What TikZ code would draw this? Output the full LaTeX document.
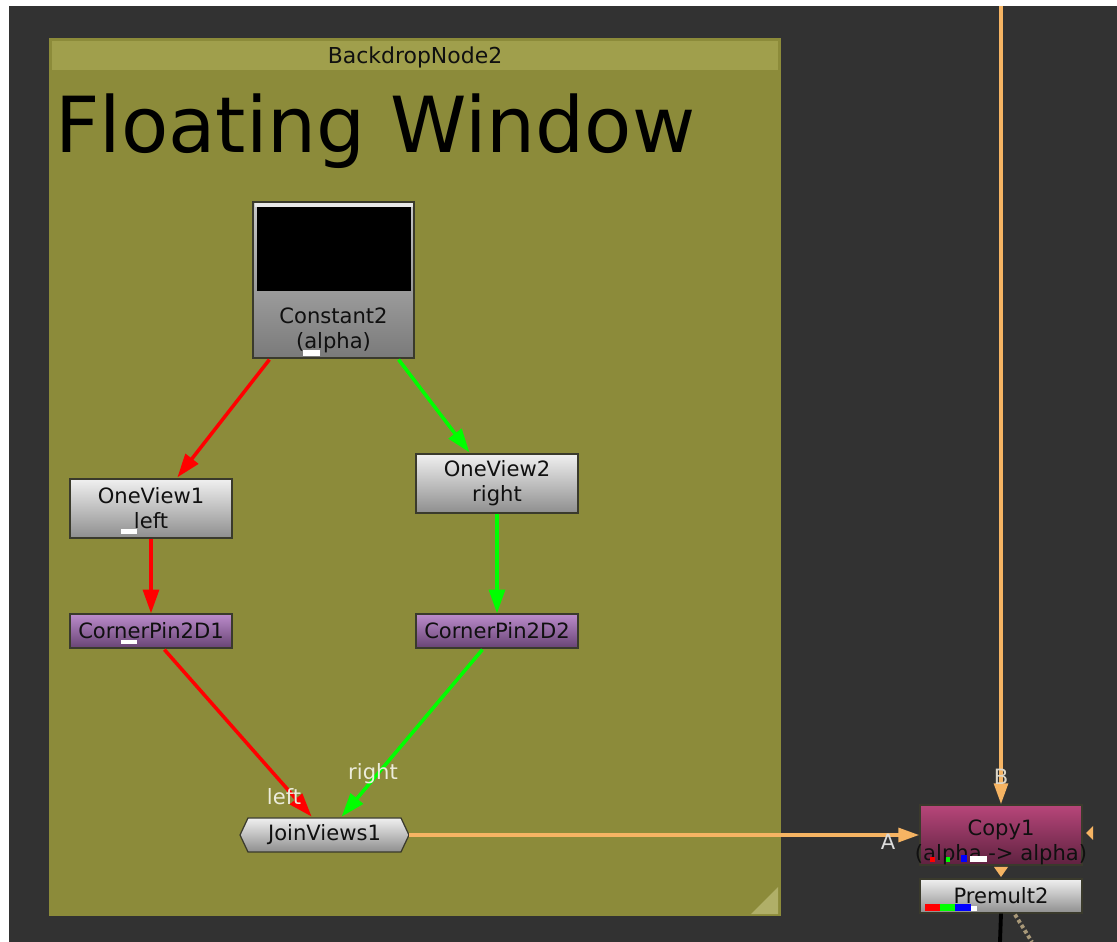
\documentclass[tikz,border=0pt]{standalone}
\usepackage{fontspec}
\setmainfont{DejaVu Sans}
\usetikzlibrary{arrows.meta,calc}

\definecolor{canvas}{HTML}{323232}
\definecolor{backdrop}{HTML}{8C8B3A}
\definecolor{backdropbar}{HTML}{A09F4C}
\definecolor{backdropcorner}{HTML}{B0AF68}
\definecolor{nodeborder}{HTML}{3A3A2C}
\definecolor{nodetext}{HTML}{101010}
\definecolor{grayhi}{HTML}{F0F0F0}
\definecolor{graylo}{HTML}{8E8E8E}
\definecolor{consthi}{HTML}{C8C8C8}
\definecolor{constlo}{HTML}{7A7A7A}
\definecolor{thumbedge}{HTML}{E8E8E8}
\definecolor{purplehi}{HTML}{BC8CCC}
\definecolor{purplelo}{HTML}{684474}
\definecolor{copyhi}{HTML}{B8467A}
\definecolor{copylo}{HTML}{5E2240}
\definecolor{pipeorange}{HTML}{F6B463}
\definecolor{pipered}{HTML}{FF0000}
\definecolor{pipegreen}{HTML}{00FF00}
\definecolor{labelwhite}{HTML}{ECECDC}
\definecolor{labelA}{HTML}{DCDCDC}
\definecolor{labelB}{HTML}{DCD6C8}
\definecolor{dashtan}{HTML}{A89878}

\newcommand\nodefont{\fontsize{12}{14.2}\selectfont}

\begin{document}
\begin{tikzpicture}[x=0.02cm,y=-0.02cm,
  boxnode/.style={draw=nodeborder, line width=0.7pt, inner sep=0pt,
    minimum width=162*0.02cm, font=\nodefont, text=nodetext, align=center},
  graynode/.style={boxnode, top color=grayhi, bottom color=graylo},
  purplenode/.style={boxnode, top color=purplehi, bottom color=purplelo},
  copynode/.style={boxnode, top color=copyhi, bottom color=copylo},
  txt/.style={inner sep=0pt, font=\nodefont, text=nodetext, align=center},
  pipelabel/.style={inner sep=0pt, font=\nodefont, text=labelwhite},
  redpipe/.style={draw=pipered, line width=2pt, -{Triangle[length=13.5pt,width=9pt]}},
  greenpipe/.style={draw=pipegreen, line width=2pt, -{Triangle[length=13.5pt,width=9pt]}},
  orangepipe/.style={draw=pipeorange, line width=2.2pt, -{Triangle[length=12pt,width=7.8pt]}}]

% page and node-graph canvas
\useasboundingbox (0,0) rectangle (1117,942);
\fill[white] (0,0) rectangle (1117,942);
\fill[canvas] (9,6) rectangle (1117,942);

% backdrop
\fill[backdrop] (49,38) rectangle (781,916);
\fill[backdropbar] (52,41) rectangle (778,70);
\fill[backdropcorner] (778,887) -- (778,914) -- (751,914) -- cycle;
\node[inner sep=0pt, font=\fontsize{12.5}{14}\selectfont, text=nodetext] (bdtitle) at (415,57) {BackdropNode2};
\node[inner sep=0pt, anchor=base west, font=\fontsize{44}{50}\selectfont, text=black] (bdlabel) at (55,153) {Floating Window};

% Constant2 with its black thumbnail
\node[boxnode, top color=consthi, bottom color=constlo, minimum width=161*0.02cm, minimum height=156*0.02cm] (c2) at (333.5,280) {};
\fill[thumbedge] (255,203.5) rectangle (412.5,207);
\fill[black] (257,207) rectangle (411,291);
\node[txt] (c2txt) at (333.5,330) {Constant2\\(alpha)};
\fill[white] (303,350) rectangle (320,356);

% OneView nodes
\node[graynode, minimum height=59*0.02cm] (ov1) at (151,508.5) {OneView1\\left};
\fill[white] (121,529) rectangle (137,534);
\node[graynode, minimum height=59*0.02cm] (ov2) at (497,483.5) {OneView2\\right};

% CornerPin nodes
\node[purplenode, minimum height=34*0.02cm] (cp1) at (151,631) {CornerPin2D1};
\fill[white] (121,640) rectangle (137,644);
\node[purplenode, minimum height=34*0.02cm] (cp2) at (497,631) {CornerPin2D2};

% JoinViews1 (pointed ends)
\shade[top color=grayhi, bottom color=graylo, draw=nodeborder, line width=0.7pt]
  (248,818) -- (401,818) -- (409,835) -- (401,852) -- (248,852) -- (240,835) -- cycle;
\node[txt, minimum width=169*0.02cm, minimum height=34*0.02cm] (j1) at (324.5,835) {\raisebox{-2pt}{JoinViews1}};

% Copy1 and Premult2
\node[copynode, minimum height=60*0.02cm] (copy1) at (1001,835) {};
\node[txt] (copy1txt) at (1001,842) {Copy1\\(alpha -> alpha)};
\fill[pipered] (930,857) rectangle (935,862);
\fill[pipegreen] (946,857) rectangle (950,862);
\fill[blue] (961,855) rectangle (967,862);
\fill[white] (970,856) rectangle (987,862);
\node[graynode, minimum height=34*0.02cm] (pm2) at (1001,896) {\raisebox{-2pt}{Premult2}};
\fill[pipered] (925,904) rectangle (940,911);
\fill[pipegreen] (940,904) rectangle (955,911);
\fill[blue] (955,904) rectangle (971,911);
\fill[white] (971,906) rectangle (977,911);

% input markers on Copy1
\fill[pipeorange] (1086,833) -- (1093,826) -- (1093,840) -- cycle;
\fill[pipeorange] (994,867) -- (1008,867) -- (1001,877) -- cycle;

% connections
\draw[redpipe] ($(c2.south west)+(17,1)$) -- ($(ov1.north west)+(108,-1)$);
\draw[greenpipe] ($(c2.south east)+(-16,1)$) -- ($(ov2.north west)+(54,-1)$);
\draw[redpipe] (ov1.south) -- (cp1.north);
\draw[greenpipe] (ov2.south) -- (cp2.north);
\draw[redpipe] ($(cp1.south west)+(95,1)$) -- ($(j1.north west)+(72,-1)$);
\draw[greenpipe] ($(cp2.south west)+(67,1)$) -- ($(j1.north west)+(102,-1)$);
\draw[orangepipe] (j1.east) -- (copy1.west);
\coordinate (binput) at (1001,6);
\draw[orangepipe] (binput) -- (copy1.north);
\coordinate (pmout) at (1000,942);
\draw[black, line width=2.2pt] (pm2.south) -- (pmout);
\coordinate (pmside) at (1032,942);
\draw[dashtan, line width=2.2pt, dash pattern=on 2pt off 1.5pt] ($(pm2.south)+(14,1)$) -- (pmside);

% pipe labels
\node[pipelabel] (leftlbl) at (284,797) {left};
\node[pipelabel] (rightlbl) at (373,774) {right};
\node[pipelabel, text=labelA] (albl) at (888,842) {A};
\node[pipelabel, text=labelB] (blbl) at (1001,777) {B};
\end{tikzpicture}
\end{document}
